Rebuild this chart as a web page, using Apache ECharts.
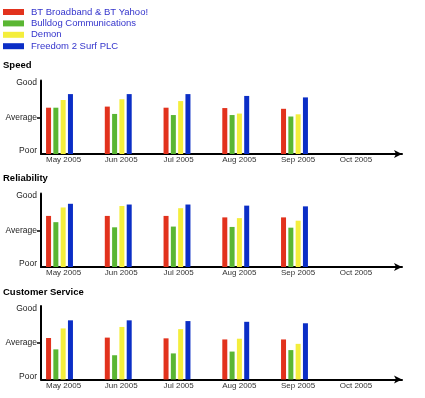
<!DOCTYPE html>
<html lang="en">
<head>
    <title>ISP ratings</title>
    <meta charset="utf-8"/>
    <script src="https://cdn.jsdelivr.net/npm/echarts@6/dist/echarts.min.js"></script>
    <style>
        html, body { margin: 0; padding: 0; background: #fff; }
        #chart { width: 425px; height: 398px; }
    </style>
</head>
<body>
<div id="chart"></div>
<script type="text/javascript">
    var months = ['May 2005', 'Jun 2005', 'Jul 2005', 'Aug 2005', 'Sep 2005', 'Oct 2005'];
    var ratingLabels = ['Poor', 'Average', 'Good'];
    var providers = ['BT Broadband & BT Yahoo!', 'Bulldog Communications', 'Demon', 'Freedom 2 Surf PLC'];
    var sections = ['Speed', 'Reliability', 'Customer Service'];

    // 0 = Poor, 1 = Average, 2 = Good ; May..Sep (no Oct data yet)
    var speedBT = [1.26, 1.29, 1.26, 1.25, 1.23];
    var speedBulldog = [1.26, 1.09, 1.06, 1.06, 1.02];
    var speedDemon = [1.47, 1.49, 1.44, 1.10, 1.08];
    var speedF2S = [1.63, 1.63, 1.63, 1.58, 1.54];

    var relBT = [1.39, 1.39, 1.39, 1.35, 1.35];
    var relBulldog = [1.22, 1.08, 1.10, 1.09, 1.07];
    var relDemon = [1.62, 1.66, 1.60, 1.33, 1.26];
    var relF2S = [1.72, 1.70, 1.70, 1.67, 1.65];

    var csBT = [1.13, 1.14, 1.12, 1.09, 1.09];
    var csBulldog = [0.82, 0.66, 0.71, 0.76, 0.80];
    var csDemon = [1.39, 1.43, 1.37, 1.11, 0.97];
    var csF2S = [1.61, 1.61, 1.59, 1.57, 1.53];

    var colors = ['#e2321d', '#5ab633', '#f4ee3c', '#0b2ec6'];
    var font = "'Liberation Sans', Arial, sans-serif";

    var sectionData = [
        [speedBT, speedBulldog, speedDemon, speedF2S],
        [relBT, relBulldog, relDemon, relF2S],
        [csBT, csBulldog, csDemon, csF2S]
    ];

    var gridTops = [80.5, 193.5, 306];
    var titleTops = [60, 173.5, 287];

    var grids = [], xAxes = [], yAxes = [], titles = [], series = [];

    sections.forEach(function (name, s) {
        titles.push({
            text: name, left: 3, top: titleTops[s], padding: 0,
            textStyle: {fontFamily: font, fontSize: 9.5, fontWeight: 'bold', color: '#000'}
        });
        grids.push({left: 41, right: 23, top: gridTops[s], height: 73.5});
        xAxes.push({
            gridIndex: s, type: 'value', min: -0.315, max: 5.83,
            splitLine: {show: false},
            axisTick: {show: false},
            axisLine: {
                show: true, onZero: false,
                symbol: ['none', 'arrow'], symbolSize: [6, 8],
                lineStyle: {color: '#000', width: 2}
            },
            axisLabel: {
                customValues: months.map(function (m, i) { return i - 0.23; }),
                align: 'left', margin: 2,
                fontFamily: font, fontSize: 8, color: '#333',
                formatter: function (v) { return months[Math.round(v)]; }
            }
        });
        yAxes.push({
            gridIndex: s, type: 'value', min: 0, max: 2, interval: 1,
            splitLine: {show: false},
            axisLine: {show: true, onZero: false, lineStyle: {color: '#000', width: 2}},
            axisTick: {show: true, customValues: [1], length: 4, lineStyle: {color: '#000', width: 1.5}},
            axisLabel: {
                customValues: [0.08, 1, 1.93],
                margin: 4, fontFamily: font, fontSize: 8.5, color: '#222',
                formatter: function (v) { return ratingLabels[Math.round(v)]; }
            }
        });
        sectionData[s].forEach(function (vals, p) {
            series.push({
                name: providers[p], type: 'bar',
                xAxisIndex: s, yAxisIndex: s,
                barWidth: 5, barGap: '46%',
                itemStyle: {color: colors[p]},
                data: vals.map(function (v, i) { return [i, v]; })
            });
        });
    });

    var myChart = echarts.init(document.getElementById('chart'));
    myChart.setOption({
        animation: false,
        color: colors,
        title: titles,
        legend: {
            orient: 'vertical', left: 3, top: 7, padding: 0,
            itemWidth: 21, itemHeight: 6, itemGap: 1.4,
            icon: 'rect',
            data: providers,
            textStyle: {fontFamily: font, fontSize: 9.5, color: '#3434cc', padding: [0, 0, 0, 2]}
        },
        grid: grids,
        xAxis: xAxes,
        yAxis: yAxes,
        series: series
    });
</script>
</body>
</html>
